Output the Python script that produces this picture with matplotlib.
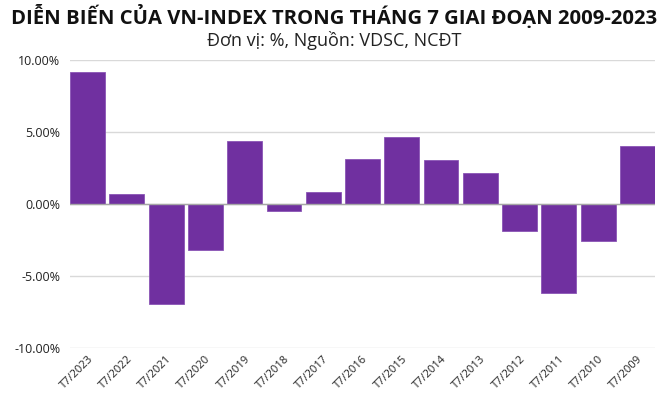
import numpy as np
import matplotlib.pyplot as plt
from matplotlib.ticker import FuncFormatter

# data
labels = ['T7/2023', 'T7/2022', 'T7/2021', 'T7/2020', 'T7/2019', 'T7/2018', 'T7/2017',
          'T7/2016', 'T7/2015', 'T7/2014', 'T7/2013', 'T7/2012', 'T7/2011', 'T7/2010', 'T7/2009']
values = [9.17, 0.67, -6.97, -3.17, 4.40, -0.49, 0.85,
          3.15, 4.63, 3.03, 2.15, -1.88, -6.16, -2.57, 4.05]

plt.rcParams['font.family'] = ['Open Sans', 'DejaVu Sans']

fig = plt.figure(figsize=(6.69, 4.0), dpi=100)
ax = fig.add_axes([70 / 669, 1 - 348 / 400, 585 / 669, 288 / 400])

x = np.arange(len(labels))
ax.bar(x, values, width=0.89, color='#7030A0', edgecolor='#8a55b5', linewidth=0.6, zorder=3)

ax.set_xlim(-0.45, len(labels) - 0.55)
ax.set_ylim(-10, 10)
ax.set_yticks([-10, -5, 0, 5, 10])
ax.yaxis.set_major_formatter(FuncFormatter(lambda v, p: f'{v:.2f}%'))
ax.grid(axis='y', color='#d9d9d9', linewidth=1, zorder=0)
ax.axhline(0, color='#a6a6a6', linewidth=1, zorder=4)

for s in ax.spines.values():
    s.set_visible(False)
ax.tick_params(axis='both', length=0, colors='#222222')
ax.tick_params(axis='y', pad=7, labelsize=9)
ax.tick_params(axis='x', pad=4)
ax.set_xticks(x)
ax.set_xticklabels(labels, rotation=45, ha='right', rotation_mode='anchor', fontsize=8)

fig.text(0.5, 1 - 17 / 400, 'DIỄN BIẾN CỦA VN-INDEX TRONG THÁNG 7 GIAI ĐOẠN 2009-2023',
         ha='center', va='center', fontsize=14.6, fontweight='bold', color='#111111')
fig.text(0.5, 1 - 41 / 400, 'Đơn vị: %, Nguồn: VDSC, NCĐT',
         ha='center', va='center', fontsize=13, color='#222222')

fig.savefig('out.png', dpi=100)
